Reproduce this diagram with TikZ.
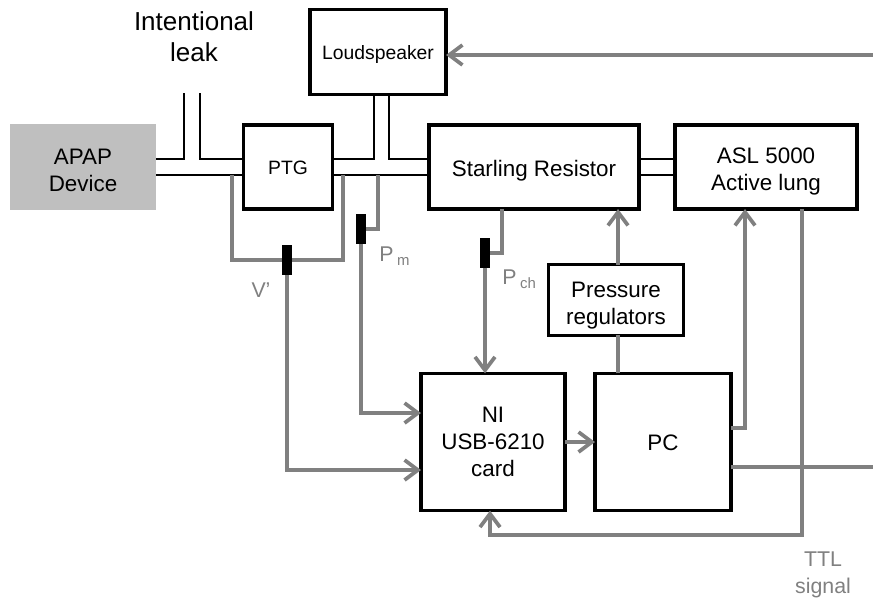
\documentclass[tikz,border=0pt]{standalone}
\usepackage{fontspec}
\setmainfont{Liberation Sans}
\usepackage{xcolor}
\usetikzlibrary{arrows.meta,positioning}
\definecolor{devgray}{RGB}{191, 191, 191}
\definecolor{siggray}{RGB}{128, 128, 128}
\newcommand{\dropline}[1]{\rule{0pt}{#1}}
\tikzset{
  blockbox/.style={draw=black, line width=2.3pt, rectangle, fill=white, align=center, inner sep=0pt, outer sep=0pt, font=\fontsize{16.8}{20}\selectfont},
  tube/.style={draw=black, line width=2pt, line join=miter},
  signal/.style={draw=siggray, line width=2.8pt, line join=miter},
  sensor/.style={fill=black, rectangle, inner sep=0pt, outer sep=0pt, minimum width=6.8pt, minimum height=23pt},
  siglabel/.style={text=siggray, font=\fontsize{16}{20}\selectfont, align=center, inner sep=0pt}
}
\begin{document}
\begin{tikzpicture}[x=0.75pt, y=-0.75pt, >={Straight Barb[length=10pt, width=15pt, line width=2.8pt]}]
        \useasboundingbox (0,0) rectangle (873,600);
        \coordinate (tubeup) at (0,159);
        \coordinate (tubelow) at (0,175);
        \coordinate (leakl) at (184,93);
        \coordinate (leakr) at (200,93);
        \coordinate (edge) at (873,0);

        \node[fill=devgray, align=center, minimum width=110pt, minimum height=65pt, inner sep=0pt, outer sep=0pt, font=\fontsize{16.8}{20}\selectfont] (apap) at (83,167) {\dropline{17pt}APAP\\Device};
        \node[blockbox, minimum width=66.5pt, minimum height=63pt, font=\fontsize{14.5}{18}\selectfont] (ptg) at (288,167) {\dropline{12pt}PTG};
        \node[blockbox, minimum width=102pt, minimum height=64pt, font=\fontsize{14.5}{18}\selectfont] (spk) at (378,52) {\dropline{15pt}Loudspeaker};
        \node[blockbox, minimum width=157.5pt, minimum height=63pt] (star) at (534,167) {\dropline{17pt}Starling Resistor};
        \node[blockbox, minimum width=136.5pt, minimum height=63pt] (asl) at (766,167) {\dropline{18pt}ASL 5000\\Active lung};
        \node[blockbox, minimum width=101pt, minimum height=53pt] (reg) at (616,300) {\dropline{20pt}Pressure\\regulators};
        \node[blockbox, minimum width=108pt, minimum height=103pt] (card) at (493,442) {NI\\USB-6210\\card};
        \node[blockbox, minimum width=102pt, minimum height=103pt] (pc) at (663,442) {\dropline{13pt}PC};

        % Tubing
        \draw[tube] (apap.east |- tubeup) -| (leakl);
        \draw[tube] (leakr) |- (ptg.west |- tubeup);
        \draw[tube] (apap.east |- tubelow) -- (ptg.west |- tubelow);
        \draw[tube] (ptg.east |- tubeup) -| (spk.south -| 374,0);
        \draw[tube] (spk.south -| 389,0) |- (star.west |- tubeup);
        \draw[tube] (ptg.east |- tubelow) -- (star.west |- tubelow);
        \draw[tube] (star.east |- tubeup) -- (asl.west |- tubeup);
        \draw[tube] (star.east |- tubelow) -- (asl.west |- tubelow);

        % Sensors
        \node[sensor] (vsens) at (287,260) {};
        \node[sensor] (msens) at (361,229) {};
        \node[sensor, minimum height=22pt] (chsens) at (485,253) {};
        \draw[signal] (232,175) |- (vsens.west);
        \draw[signal] (343,175) |- (vsens.east);
        \draw[signal] (378,175) |- (msens.east);
        \draw[signal] (star.south -| 502,0) |- (chsens.east);

        % Signals
        \draw[signal, ->] (vsens.south) |- (card.west |- 0,470);
        \draw[signal, ->] (msens.south) |- (card.west |- 0,413);
        \draw[signal, ->] (chsens.south) -- (card.north -| chsens.south);
        \draw[signal] (pc.north -| 618,0) -- (reg.south -| 618,0);
        \draw[signal, ->] (reg.north -| 618,0) -- (star.south -| 618,0);
        \draw[signal, ->] (card.east) -- (pc.west);
        \draw[signal, ->] (pc.east |- 0,428) -| (asl.south -| 745,0);
        \draw[signal] (pc.east |- 0,467) -- (edge |- 0,467);
        \draw[signal, ->] (asl.south -| 802,0) |- (490,535) -- (card.south -| 490,0);
        \draw[signal, ->] (edge |- 0,55) -- (spk.east |- 0,55);

        % Labels
        \node[align=center, inner sep=0pt, font=\fontsize{19.5}{23.2}\selectfont] (leak) at (194,37) {Intentional\\leak};
        \node[siglabel] (vlab) at (261,290) {V’};
        \node[siglabel, anchor=west] (mlab) at (379,256) {P\,\textsubscript{m}};
        \node[siglabel, anchor=west] (chlab) at (502,279) {P\,\textsubscript{ch}};
        \node[siglabel] (ttl) at (823,575) {TTL\\signal};
    \end{tikzpicture}
\end{document}
